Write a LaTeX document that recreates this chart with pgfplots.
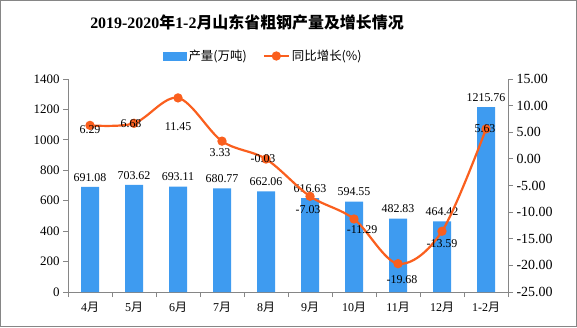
\documentclass[border=0pt]{standalone}
\usepackage{pgfplots}
\pgfplotsset{compat=1.18}
\usepackage{fontspec}
\setmainfont{Liberation Serif}
\newfontfamily\cjk{Noto Sans CJK SC}
\definecolor{barblue}{RGB}{62,155,240}
\definecolor{lineor}{RGB}{250,95,30}
\definecolor{axgray}{RGB}{134,134,134}

\pgfplotstableread{
x y lab
0 691.08 691.08
1 703.62 703.62
2 693.11 693.11
3 680.77 680.77
4 662.06 662.06
5 616.63 616.63
6 594.55 594.55
7 482.83 482.83
8 464.42 464.42
9 1215.76 1215.76
}\bardata

\pgfplotstableread{
x y lab dx dy
0 6.29 6.29 0 -4
1 6.68 6.68 -3 0
2 11.45 11.45 0 -29
3 3.33 3.33 -2 -11
4 -0.03 -0.03 -3 0
5 -7.03 -7.03 -2 -13
6 -11.29 -11.29 8 -11
7 -19.68 -19.68 4 -16
8 -13.59 -13.59 0 -12
9 5.63 5.63 -1 0
}\linedata

\begin{document}
\begin{tikzpicture}[x=1bp,y=1bp]
\draw[axgray, line width=0.8bp] (0.4,0.4) rectangle (576.6,326.6);
\node[font=\fontsize{16}{18}\selectfont\bfseries] at (247,305) {2019-2020{\cjk 年}1-2{\cjk 月山东省粗钢产量及增长情况}};

\begin{axis}[at={(68bp,35bp)}, anchor=south west, scale only axis,
  width=440bp, height=213bp,
  xmin=-0.5, xmax=9.5, ymin=0, ymax=1400, ytick distance=200,
  axis x line*=bottom, axis y line*=left,
  axis line style={axgray, line width=0.8bp, -},
  tick align=outside, major tick length=5bp, minor tick length=5bp,
  every tick/.style={axgray, line width=0.8bp},
  xtick={0,...,9},
  xticklabels={4{\cjk 月},5{\cjk 月},6{\cjk 月},7{\cjk 月},8{\cjk 月},9{\cjk 月},10{\cjk 月},11{\cjk 月},12{\cjk 月},1-2{\cjk 月}},
  major x tick style={draw=none},
  minor xtick={-0.5,0.5,...,9.5},
  x tick label style={font=\fontsize{12}{14}\selectfont, yshift=-2bp},
  y tick label style={font=\fontsize{13}{15}\selectfont},
  /pgf/number format/assume math mode=true,
  /pgf/number format/1000 sep={},
  clip=false,
]
\addplot[ybar, bar width=18bp, fill=barblue, draw=none,
  nodes near coords, point meta=explicit symbolic,
  nodes near coords style={font=\fontsize{12}{14}\selectfont, color=black, anchor=south, yshift=2bp}]
  table[x=x, y=y, meta=lab] {\bardata};
\end{axis}

\begin{axis}[at={(68bp,35bp)}, anchor=south west, scale only axis,
  width=440bp, height=213bp,
  xmin=-0.5, xmax=9.5, ymin=-25, ymax=15, ytick distance=5,
  axis x line=none, axis y line*=right,
  axis line style={axgray, line width=0.8bp, -},
  tick align=outside, major tick length=5bp,
  every tick/.style={axgray, line width=0.8bp},
  y tick label style={font=\fontsize{14}{16}\selectfont},
  /pgf/number format/assume math mode=true,
  yticklabel={\pgfmathprintnumber[fixed, fixed zerofill, precision=2]{\tick}},
  clip=false,
  legend style={at={(0.444,1.108)}, anchor=center, draw=none, fill=none,
    font=\fontsize{12.5}{14}\selectfont, legend columns=2,
    /tikz/every even column/.append style={column sep=14bp}},
]
\addlegendimage{legend image code/.code={\fill[barblue] (0bp,-4bp) rectangle (23bp,4bp);}}
\addlegendentry{\cjk 产量(万吨)}
\addplot[lineor, line width=2.2bp, smooth, tension=0.55, mark=*, mark size=3.5bp,
  mark options={fill=lineor, draw=lineor},
  nodes near coords, point meta=explicit symbolic,
  visualization depends on={\thisrow{dx}\as\dx},
  visualization depends on={\thisrow{dy}\as\dy},
  nodes near coords style={font=\fontsize{12}{14}\selectfont, color=black, anchor=center, xshift=\dx bp, yshift=\dy bp},
  legend image code/.code={\draw[lineor, line width=2.2bp] (0bp,0bp) -- (25bp,0bp); \fill[lineor] (12.5bp,0bp) circle (3.5bp);}]
  table[x=x, y=y, meta=lab] {\linedata};
\addlegendentry{\cjk 同比增长(\%)}
\end{axis}
\end{tikzpicture}
\end{document}
